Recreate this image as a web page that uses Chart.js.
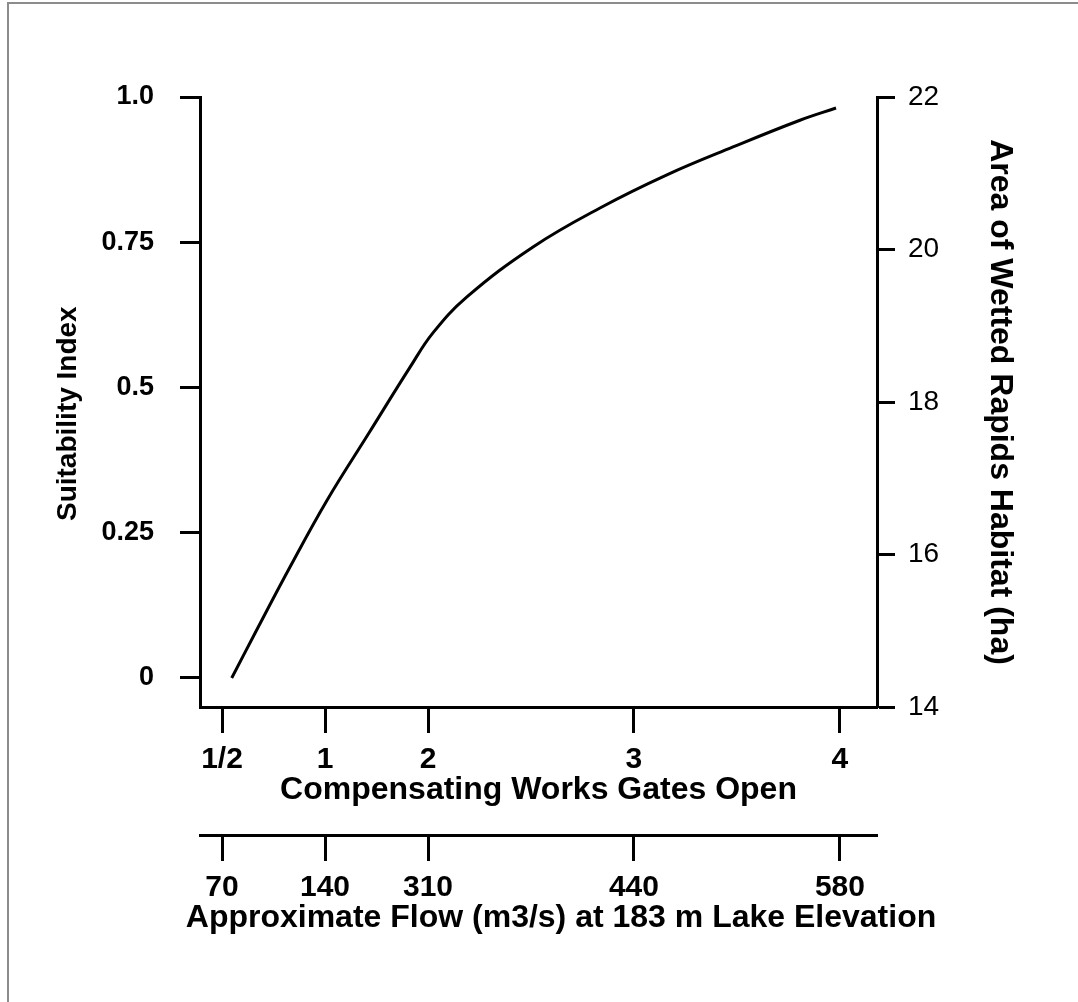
<!DOCTYPE html>
<html><head><meta charset="utf-8">
<script src="https://cdn.jsdelivr.net/npm/chart.js@4.4.1/dist/chart.umd.min.js"></script>
<style>
html,body{margin:0;padding:0;background:#fff;}
#wrap{position:relative;width:1078px;height:1002px;overflow:hidden;background:#fff;}
#frame{position:absolute;left:7px;top:2px;width:1100px;height:1100px;border-left:2px solid #8c8c8c;border-top:2px solid #8c8c8c;}
canvas{position:absolute;left:0;top:0;}
</style></head><body>
<div id="wrap"><div id="frame"></div><canvas id="c" width="1078" height="1002"></canvas></div>
<script>
// Tick positions along the horizontal axis (shared by gates and flow)
const tickPositions = [0, 0.5, 1, 2, 3];
const gateLabels = ['1/2', '1', '2', '3', '4'];
const flowLabels = ['70', '140', '310', '440', '580'];
// Left axis: suitability index
const suitTicks = [0, 0.25, 0.5, 0.75, 1.0];
const suitTickLabels = ['0', '0.25', '0.5', '0.75', '1.0'];
// Right axis: area of wetted rapids habitat (ha)
const areaTicks = [14, 16, 18, 20, 22];
// Curve
const curveX = [0.047, 0.160, 0.330, 0.510, 0.714, 0.913, 1.024, 1.189, 1.510, 1.835, 2.160, 2.481, 2.806, 2.981];
const suitability = [0.0, 0.077, 0.191, 0.306, 0.422, 0.535, 0.594, 0.656, 0.742, 0.809, 0.866, 0.914, 0.960, 0.981];

const FONT = "'Liberation Sans', Arial, Helvetica, sans-serif";
Chart.defaults.font.family = FONT;
Chart.defaults.color = '#000';

const gridOpts = (len) => ({display: true, drawOnChartArea: false, drawTicks: true, tickLength: len, tickWidth: 3, tickColor: '#000'});
const borderOpts = {display: true, width: 3, color: '#000'};

new Chart(document.getElementById('c'), {
  type: 'line',
  data: {
    datasets: [{
      data: curveX.map((x, i) => ({x: x, y: suitability[i]})),
      xAxisID: 'x', yAxisID: 'y',
      borderColor: '#000', borderWidth: 3, pointRadius: 0, fill: false,
      tension: 0.4
    }]
  },
  options: {
    responsive: false, animation: false, devicePixelRatio: 1,
    layout: {padding: {top: 97, left: 44, right: 0, bottom: 0}},
    plugins: {
      legend: {display: false}, tooltip: {enabled: false},
      title: {
        display: true, position: 'bottom', align: 'center',
        text: 'Approximate Flow (m3/s) at 183 m Lake Elevation',
        font: {size: 32, weight: 'bold', lineHeight: 0.6}, color: '#000',
        padding: {top: 2, bottom: 73.8}
      }
    },
    scales: {
      x: {
        type: 'linear', position: 'bottom', min: -0.107, max: 3.18,
        afterBuildTicks: s => { s.ticks = tickPositions.map(v => ({value: v})); },
        afterFit: s => { s.height = 128; },
        ticks: {callback: (v, i) => gateLabels[i], font: {size: 30, weight: 'bold'}, padding: 9, maxRotation: 0, autoSkip: false},
        grid: gridOpts(26), border: borderOpts,
        title: {display: true, text: 'Compensating Works Gates Open', font: {size: 32, weight: 'bold'}, padding: {top: 0, bottom: 26}}
      },
      x2: {
        type: 'linear', position: 'bottom', min: -0.107, max: 3.18,
        afterBuildTicks: s => { s.ticks = tickPositions.map(v => ({value: v})); },
        afterFit: s => { s.height = 72; },
        ticks: {callback: (v, i) => flowLabels[i], font: {size: 30, weight: 'bold'}, padding: 9, maxRotation: 0, autoSkip: false},
        grid: gridOpts(26), border: borderOpts,
        title: {display: false}
      },
      y: {
        type: 'linear', position: 'left', min: -0.05, max: 1.0,
        afterBuildTicks: s => { s.ticks = suitTicks.map(v => ({value: v})); },
        afterFit: s => { s.width = 156; },
        ticks: {callback: (v, i) => suitTickLabels[i], font: {size: 27, weight: 'bold'}, padding: 26},
        grid: gridOpts(20), border: borderOpts,
        title: {display: true, text: 'Suitability Index   ', font: {size: 28, weight: 'bold'}, padding: {top: 7, bottom: 0}}
      },
      y2: {
        type: 'linear', position: 'right', min: 14, max: 22,
        afterBuildTicks: s => { s.ticks = areaTicks.map(v => ({value: v})); },
        afterFit: s => { s.width = 201; },
        ticks: {callback: (v) => String(v), font: {size: 28, weight: 'normal'}, padding: 13},
        grid: gridOpts(18), border: borderOpts,
        title: {display: true, text: 'Area of Wetted Rapids Habitat (ha)', font: {size: 32, weight: 'bold'}, padding: {top: 59, bottom: 0}}
      }
    }
  }
});
</script>
</body></html>
